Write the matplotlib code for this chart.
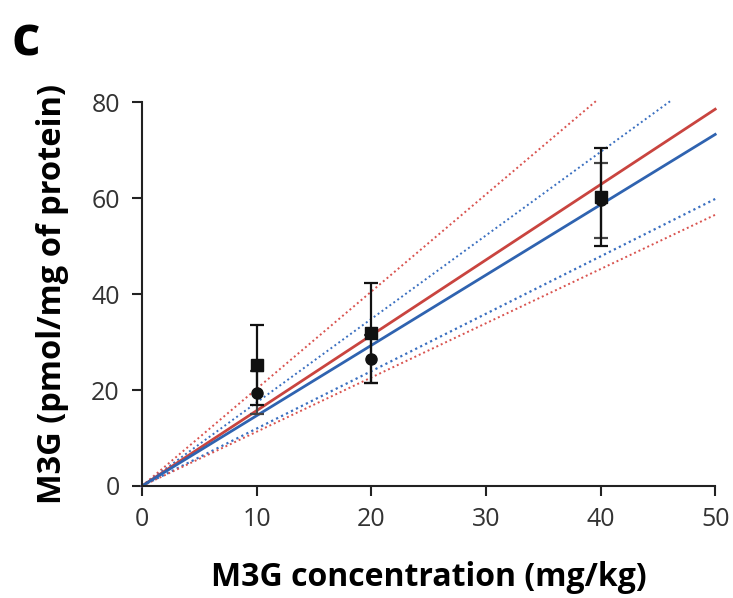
import matplotlib
matplotlib.use("Agg")
import matplotlib.pyplot as plt
import numpy as np

# Data
conc = [10, 20, 40]
sq_mean = [25.2, 31.9, 60.2]
sq_sd = [8.3, 10.4, 10.2]
ci_mean = [19.4, 26.5, 59.5]
ci_sd = [4.5, 5.0, 7.8]

# fitted lines: slope, x-end
red_fit = (1.57, 50)
blue_fit = (1.465, 50)
red_upper = (2.025, 39.7)
blue_upper = (1.74, 46.2)
blue_lower = (1.196, 50)
red_lower = (1.13, 50)

plt.rcParams['font.family'] = ['Open Sans', 'DejaVu Sans']

fig = plt.figure(figsize=(7.33, 5.98), dpi=100)
ax = fig.add_axes([0.1937, 0.1873, 0.782, 0.6421])

red = '#c9443f'
blue = '#2f63b0'
red_dot = '#d9534f'
blue_dot = '#3a6fc0'

def line(fit, color, ls, lw):
    s, xe = fit
    xs = np.array([0, xe])
    ax.plot(xs, s * xs, color=color, ls=ls, lw=lw, clip_on=False, zorder=2)

line(red_upper, red_dot, (0, (1, 1.5)), 1.4)
line(blue_upper, blue_dot, (0, (1, 1.5)), 1.4)
line(blue_lower, blue_dot, (0, (1, 1.5)), 1.6)
line(red_lower, red_dot, (0, (1, 1.5)), 1.4)
line(red_fit, red, '-', 2.0)
line(blue_fit, blue, '-', 2.0)

ax.errorbar(conc, ci_mean, yerr=ci_sd, fmt='o', color='#111111', ms=8,
            capsize=5, elinewidth=1.6, capthick=1.6, zorder=4, ecolor='#444444')
ax.errorbar(conc, sq_mean, yerr=sq_sd, fmt='s', color='#111111', ms=9,
            capsize=5, elinewidth=1.6, capthick=1.6, zorder=5)

ax.set_xlim(0, 50)
ax.set_ylim(0, 80)
ax.set_xticks([0, 10, 20, 30, 40, 50])
ax.set_yticks([0, 20, 40, 60, 80])
for sp in ['top', 'right']:
    ax.spines[sp].set_visible(False)
for sp in ['left', 'bottom']:
    ax.spines[sp].set_linewidth(1.5)
    ax.spines[sp].set_color('#222222')
ax.tick_params(axis='both', direction='out', length=7, width=1.5,
               labelsize=18, colors='#222222', labelcolor='#333333')
ax.tick_params(axis='x', pad=8)
ax.tick_params(axis='y', pad=9)

ax.set_xlabel('M3G concentration (mg/kg)', fontsize=23, fontweight='bold', labelpad=21)
ax.set_ylabel('M3G (pmol/mg of protein)', fontsize=23.5, fontweight='bold', labelpad=16)

fig.text(0.016, 0.885, 'c', fontsize=40, fontweight='bold', ha='left', va='bottom')

fig.savefig('out.png', dpi=100)
